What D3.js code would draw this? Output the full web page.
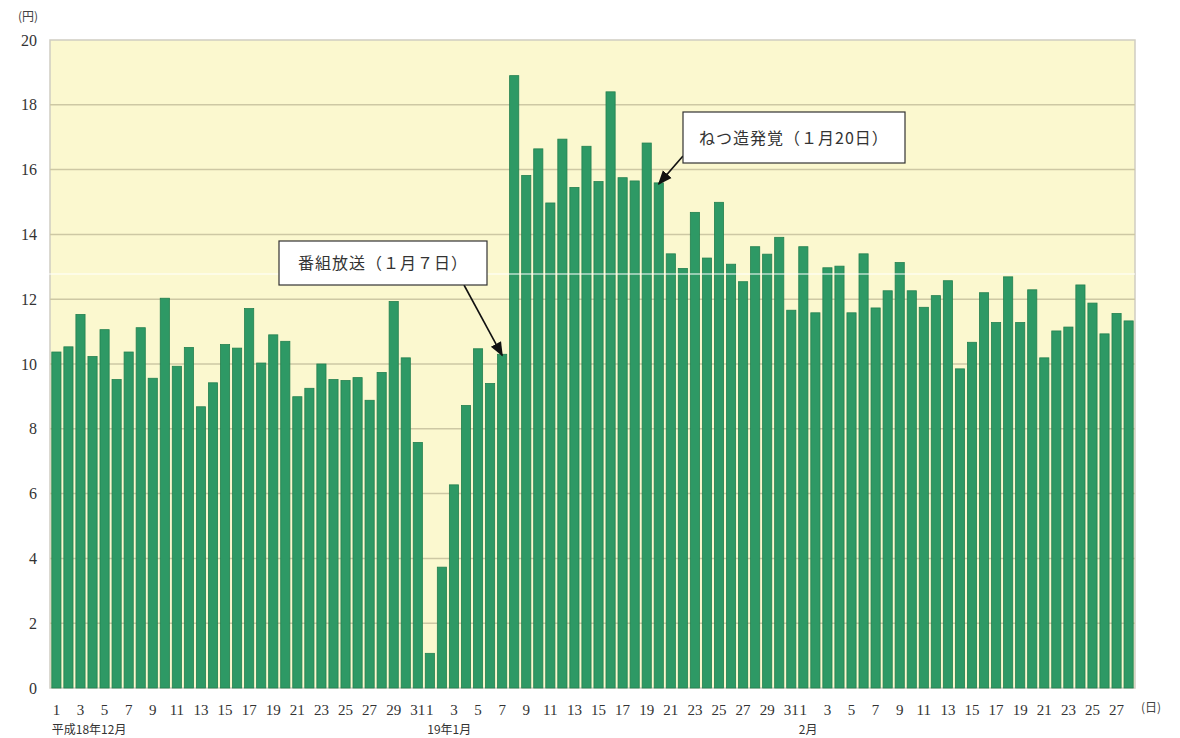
<!DOCTYPE html>
<html>
<head>
<meta charset="utf-8">
<script src="https://cdn.jsdelivr.net/npm/d3@7"></script>
<style>
  body { margin: 0; background: #fff; }
  text.num { font-family: "Liberation Serif", "DejaVu Serif", serif; }
  text.jp { font-family: "Noto Sans CJK JP", sans-serif; }
</style>
</head>
<body>
<svg id="chart" width="1180" height="738"></svg>
<script>
// daily values (円)
var decValues = [10.37, 10.53, 11.53, 10.23, 11.06, 9.52, 10.37, 11.12, 9.56, 12.03,
                 9.93, 10.51, 8.68, 9.42, 10.6, 10.49, 11.71, 10.03, 10.9, 10.7,
                 8.99, 9.25, 10.0, 9.52, 9.49, 9.58, 8.88, 9.74, 11.93, 10.19, 7.58];
var janValues = [1.07, 3.73, 6.27, 8.72, 10.47, 9.4, 10.3, 18.9, 15.82, 16.64,
                 14.97, 16.94, 15.45, 16.72, 15.63, 18.4, 15.75, 15.65, 16.82, 15.59,
                 13.4, 12.95, 14.68, 13.27, 14.99, 13.08, 12.54, 13.62, 13.39, 13.91, 11.66];
var febValues = [13.62, 11.58, 12.97, 13.02, 11.58, 13.4, 11.73, 12.26, 13.13, 12.26,
                 11.75, 12.11, 12.57, 9.85, 10.67, 12.2, 11.28, 12.69, 11.28, 12.29,
                 10.19, 11.02, 11.14, 12.44, 11.88, 10.93, 11.56, 11.33];
var monthNames = ["平成18年12月", "19年1月", "2月"];
var yTicks = [0, 2, 4, 6, 8, 10, 12, 14, 16, 18, 20];

var data = [];
[decValues, janValues, febValues].forEach(function(vals, m) {
    vals.forEach(function(v, i) { data.push({key: m + "-" + (i + 1), month: m, day: i + 1, value: v}); });
});

var margin = {left: 50, right: 45, top: 40, bottom: 50};
var width = 1180 - margin.left - margin.right;
var height = 738 - margin.top - margin.bottom;

var svg = d3.select("svg#chart").append("g")
    .attr("transform", "translate(" + margin.left + "," + margin.top + ")");

var x = d3.scaleBand().domain(data.map(function(d) { return d.key; })).range([0, width])
    .paddingInner(0.24).paddingOuter(0.15);
var y = d3.scaleLinear().domain([0, 20]).range([height, 0]);

// plot background
svg.append("rect").attr("x", 0).attr("y", 0).attr("width", width).attr("height", height)
    .attr("fill", "#fbf8cf").attr("stroke", "#cfcdc2").attr("stroke-width", 1.5);

// gridlines
svg.append("g").selectAll("line").data(yTicks.filter(function(t) { return t > 0 && t < 20; }))
    .enter().append("line")
    .attr("x1", 0).attr("x2", width)
    .attr("y1", function(d) { return y(d); }).attr("y2", function(d) { return y(d); })
    .attr("stroke", "#cdc8a4").attr("stroke-width", 1.5);

// y axis
var yAxis = d3.axisLeft(y).tickValues(yTicks).tickSize(0).tickPadding(13);
var gy = svg.append("g").call(yAxis).attr("font-family", null);
gy.select(".domain").remove();
gy.selectAll("text").attr("class", "num").style("font-size", "16px").attr("fill", "#333");
svg.append("text").attr("class", "jp").attr("x", -22).attr("y", -19).attr("text-anchor", "middle")
    .style("font-size", "12px").attr("fill", "#444").text("(円)");

// bars
svg.append("g").selectAll("rect").data(data).enter().append("rect")
    .attr("x", function(d) { return x(d.key); })
    .attr("y", function(d) { return y(d.value); })
    .attr("width", x.bandwidth())
    .attr("height", function(d) { return height - y(d.value); })
    .attr("fill", "#2e9965").attr("stroke", "#23804f").attr("stroke-width", 0.8);

// x labels (odd days)
svg.append("g").selectAll("text").data(data.filter(function(d) { return d.day % 2 === 1; }))
    .enter().append("text").attr("class", "num")
    .attr("x", function(d) { return x(d.key) + x.bandwidth() / 2; })
    .attr("y", height + 27)
    .attr("text-anchor", "middle")
    .style("font-size", "15px").attr("fill", "#333")
    .text(function(d) { return d.day; });
svg.append("text").attr("class", "jp").attr("x", width + 6).attr("y", height + 24)
    .style("font-size", "12px").attr("fill", "#444").text("(日)");

// month labels
monthNames.forEach(function(name, m) {
    svg.append("text").attr("class", "jp")
        .attr("x", x(m + "-1") + (m === 1 ? 2 : 0)).attr("y", height + 46)
        .style("font-size", "12px").attr("fill", "#333").text(name);
});

// stray white scan line
svg.append("line").attr("x1", -2).attr("x2", width).attr("y1", 234).attr("y2", 234)
    .attr("stroke", "#fff").attr("stroke-width", 1.2);

// annotations
svg.append("defs").append("marker").attr("id", "arrow").attr("viewBox", "0 0 10 10")
    .attr("refX", 9).attr("refY", 5).attr("markerWidth", 9).attr("markerHeight", 9)
    .attr("orient", "auto").append("path").attr("d", "M0,1 L10,5 L0,9 z").attr("fill", "#111");

function callout(text, bx, by, bw, bh, fromX, fromY, target) {
    svg.append("line")
        .attr("x1", fromX).attr("y1", fromY)
        .attr("x2", x(target) + x.bandwidth() / 2).attr("y2", y(data.find(function(d) { return d.key === target; }).value) + 1)
        .attr("stroke", "#111").attr("stroke-width", 1.6).attr("marker-end", "url(#arrow)");
    svg.append("rect").attr("x", bx).attr("y", by).attr("width", bw).attr("height", bh)
        .attr("fill", "#fff").attr("stroke", "#333").attr("stroke-width", 1.2);
    svg.append("text").attr("class", "jp").attr("x", bx + bw / 2).attr("y", by + bh / 2 + 6)
        .attr("text-anchor", "middle").style("font-size", "16px").attr("fill", "#333")
        .style("letter-spacing", "1px").text(text);
}
callout("番組放送（１月７日）", 229, 201, 208, 44, 414, 245, "1-7");
callout("ねつ造発覚（１月20日）", 633, 72, 222, 51, 633, 116, "1-20");
</script>
</body>
</html>
